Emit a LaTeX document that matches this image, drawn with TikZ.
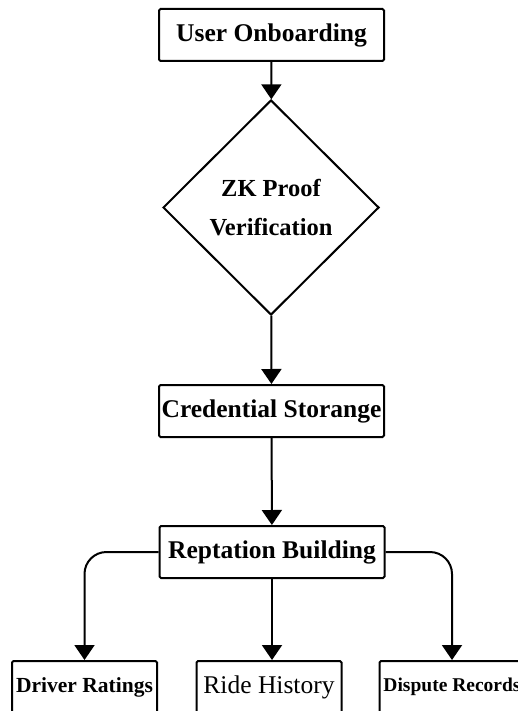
\documentclass[tikz,border=0pt]{standalone}
\usepackage{fontspec}
\setmainfont{Liberation Serif}
\usetikzlibrary{arrows.meta,shapes.geometric}
\tikzset{%
        x = 1pt,
        y = 1pt,
        >={Triangle[width=20pt,length=15pt]}
}
\tikzstyle{box}=[
    draw = black,
    rectangle,
    rounded corners = 1.5pt,
    inner sep = 0pt,
    minimum width = 225pt,
    minimum height = 52pt,
    font = \fontsize{25.5}{30}\selectfont\bfseries
]
\tikzstyle{smallbox}=[
    box,
    minimum width = 145pt
]
\tikzstyle{check}=[
    draw = black,
    diamond,
    inner sep = 0pt,
    minimum width = 216pt,
    minimum height = 215pt,
    align = center,
    font = \fontsize{24.5}{39}\selectfont\bfseries
]
\tikzstyle{branch}=[
    ->,
    rounded corners = 22pt
]

\begin{document}
\begin{tikzpicture}[line width = 2pt]
            \clip (0, 0) rectangle (518, -711);
            \useasboundingbox (0, 0) rectangle (518, -711);
            \node[box] (user) at (271.5, -35) {User Onboarding};
            \node[check] (zk) at (271, -207.5) {ZK Proof\\Verification};
            \node[box] (cred) at (271.5, -411) {Credential Storange};
            \node[box] (rep) at (272, -552) {Reptation Building};
            \node[smallbox, font = \fontsize{21.5}{26}\selectfont\bfseries] (driver) at (84.5, -687) {Driver Ratings};
            \node[smallbox, font = \fontsize{25.5}{30}\selectfont] (ride) at (269, -687) {Ride History};
            \node[smallbox, font = \fontsize{19.5}{24}\selectfont\bfseries] (dispute) at (452, -687) {Dispute Records};
            \path[->]
                (user) edge (zk)
                (zk) edge (cred)
                (cred) edge (rep)
                (rep.south) edge (rep.south |- ride.north)
                ;
            \draw[branch] (rep.west) -| (driver.north);
            \draw[branch] (rep.east) -| (dispute.north);
        \end{tikzpicture}
\end{document}
